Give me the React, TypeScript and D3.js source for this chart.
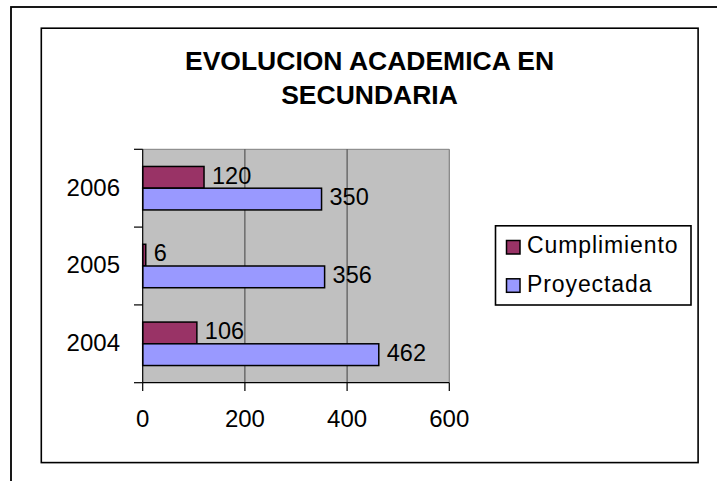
import React from "react";
import * as d3 from "d3";

const categories = ["2006", "2005", "2004"];
const seriesNames = ["Cumplimiento", "Proyectada"];
const cumplimiento = [120, 6, 106];
const proyectada = [350, 356, 462];
const xTicks = [0, 200, 400, 600];
const titleLines = ["EVOLUCION ACADEMICA EN", "SECUNDARIA"];

const colors = ["#993366", "#9999FF"];
const FONT = "'Liberation Sans', Arial, Helvetica, sans-serif";

export default function App() {
  const W = 717;
  const H = 481;
  const plot = { left: 142.7, right: 449.3, top: 149.3, bottom: 382.7 };

  const x = d3.scaleLinear().domain([0, 600]).range([plot.left, plot.right]);
  const y = d3
    .scaleBand<string>()
    .domain(categories)
    .range([plot.top, plot.bottom])
    .padding(0);
  const inner = d3
    .scaleBand<string>()
    .domain(seriesNames)
    .range([0, y.bandwidth()])
    .paddingInner(0)
    .paddingOuter(0.79);

  const values = [cumplimiento, proyectada];
  const yBoundaries = [...categories.map((c) => y(c) as number), plot.bottom];

  return (
    <svg
      width={W}
      height={H}
      style={{ position: "absolute", left: 0, top: 0, display: "block", background: "#fff" }}
      fontFamily={FONT}
    >
      {/* outer frame (clipped at right/bottom) */}
      <rect x={11} y={7} width={760} height={520} fill="none" stroke="#000" strokeWidth={1.8} />
      {/* chart area frame */}
      <rect x={41.3} y={28.2} width={656.8} height={434.4} fill="#fff" stroke="#000" strokeWidth={1.6} />

      {/* title */}
      {titleLines.map((t, i) => (
        <text
          key={t}
          x={369.5}
          y={69.8 + i * 34}
          textAnchor="middle"
          fontWeight="bold"
          fontSize={26.5}
          fill="#000"
        >
          {t}
        </text>
      ))}

      {/* plot background */}
      <rect
        x={plot.left}
        y={plot.top}
        width={plot.right - plot.left}
        height={plot.bottom - plot.top}
        fill="#C0C0C0"
      />
      {/* plot border top / right */}
      <line x1={plot.left} x2={plot.right} y1={plot.top} y2={plot.top} stroke="#808080" strokeWidth={1} />
      <line x1={plot.right} x2={plot.right} y1={plot.top} y2={plot.bottom} stroke="#808080" strokeWidth={1.2} />

      {/* gridlines */}
      {xTicks.slice(1, -1).map((t) => (
        <line key={t} x1={x(t)} x2={x(t)} y1={plot.top} y2={plot.bottom} stroke="#404040" strokeWidth={1} />
      ))}

      {/* bars */}
      {categories.map((c, ci) =>
        seriesNames.map((s, si) => {
          const v = values[si][ci];
          const by = (y(c) as number) + (inner(s) as number);
          return (
            <rect
              key={c + s}
              x={x(0)}
              y={by}
              width={x(v) - x(0)}
              height={inner.bandwidth()}
              fill={colors[si]}
              stroke="#000"
              strokeWidth={1.5}
            />
          );
        })
      )}

      {/* value labels */}
      {categories.map((c, ci) =>
        seriesNames.map((s, si) => {
          const v = values[si][ci];
          const cy = (y(c) as number) + (inner(s) as number) + inner.bandwidth() / 2;
          return (
            <text key={"l" + c + s} x={x(v) + 8} y={cy - 2} dy="0.35em" fontSize={23.5} fill="#000">
              {v}
            </text>
          );
        })
      )}

      {/* axes */}
      <line x1={plot.left} x2={plot.left} y1={plot.top} y2={plot.bottom} stroke="#000" strokeWidth={1.2} />
      <line x1={plot.left} x2={plot.right} y1={plot.bottom} y2={plot.bottom} stroke="#000" strokeWidth={1.2} />
      {yBoundaries.map((b, i) => (
        <line key={"yt" + i} x1={134} x2={plot.left} y1={b} y2={b} stroke="#000" strokeWidth={1.2} />
      ))}
      {xTicks.map((t) => (
        <line key={"xt" + t} x1={x(t)} x2={x(t)} y1={plot.bottom} y2={391} stroke="#000" strokeWidth={1.2} />
      ))}
      {categories.map((c) => (
        <text
          key={"yl" + c}
          x={120}
          y={(y(c) as number) + y.bandwidth() / 2 - 1}
          dy="0.35em"
          textAnchor="end"
          fontSize={24}
          fill="#000"
        >
          {c}
        </text>
      ))}
      {xTicks.map((t) => (
        <text key={"xl" + t} x={x(t)} y={427} textAnchor="middle" fontSize={24} fill="#000">
          {t}
        </text>
      ))}

      {/* legend */}
      <rect x={495.5} y={225.8} width={195.5} height={79.2} fill="#fff" stroke="#000" strokeWidth={1.6} />
      {seriesNames.map((s, i) => (
        <g key={"lg" + s}>
          <rect x={506.5} y={240.5 + i * 38.3} width={13.5} height={13.5} fill={colors[i]} stroke="#000" strokeWidth={1.5} />
          <text x={527} y={252.5 + i * 39.5} fontSize={23} letterSpacing={0.9} fill="#000">
            {s}
          </text>
        </g>
      ))}
    </svg>
  );
}
